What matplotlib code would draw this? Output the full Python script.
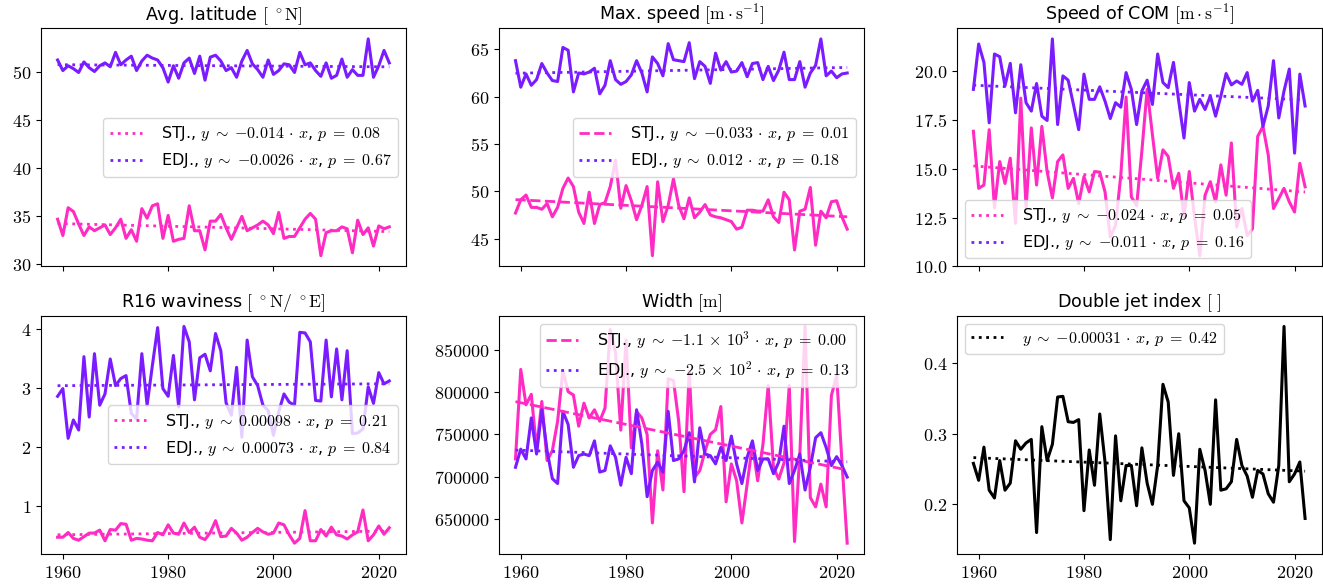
import numpy as np
import matplotlib
matplotlib.use("Agg")
import matplotlib.pyplot as plt
from matplotlib import ticker

plt.rcParams['mathtext.fontset'] = 'cm'
plt.rcParams['font.family'] = 'DejaVu Sans'
plt.rcParams['font.size'] = 10.5
plt.rcParams['xtick.labelsize'] = 13
plt.rcParams['ytick.labelsize'] = 13
plt.rcParams['legend.fontsize'] = 11.5

years = np.arange(1959, 2023)

pink = '#ff2bc2'
purple = '#7a1cff'

# avg latitude
lat_stj = [34.7, 33.0, 35.9, 35.5, 34.2, 33.0, 33.9, 33.5, 33.8, 34.1, 33.1, 33.8, 34.7, 32.7, 33.6, 32.4,
           35.8, 34.8, 36.1, 36.3, 32.7, 35.1, 32.4, 32.6, 32.7, 36.1, 33.5, 33.5, 31.5, 34.5, 34.5, 35.2,
           33.8, 32.6, 33.8, 35.0, 33.5, 33.8, 34.1, 34.5, 34.1, 33.2, 35.4, 32.7, 32.9, 32.9, 33.8, 34.7,
           35.3, 34.7, 30.9, 33.3, 33.5, 33.5, 33.9, 33.7, 31.2, 34.6, 33.1, 33.8, 31.9, 34.0, 33.7, 33.9]
lat_edj = [51.3, 50.2, 50.7, 50.4, 50.0, 51.1, 50.5, 50.1, 50.7, 51.0, 50.6, 52.1, 50.8, 51.3, 51.7, 50.2,
           51.2, 51.8, 51.5, 51.3, 50.5, 49.0, 50.7, 49.4, 51.0, 51.5, 49.9, 51.7, 49.2, 51.6, 51.8, 51.2,
           50.2, 50.5, 49.5, 51.2, 52.3, 50.9, 50.3, 49.5, 51.3, 49.8, 50.2, 50.9, 50.8, 50.0, 52.1, 50.8,
           51.0, 50.2, 49.6, 51.0, 49.4, 49.7, 51.4, 49.5, 50.3, 49.7, 49.7, 53.5, 49.5, 50.7, 52.3, 51.0]

# max speed
spd_stj = [47.7, 49.1, 49.6, 48.3, 48.3, 48.1, 48.7, 47.3, 48.3, 50.3, 51.4, 50.5, 47.8, 46.6, 49.9, 46.6,
           48.6, 48.8, 50.5, 53.3, 48.2, 50.6, 49.0, 47.0, 48.5, 50.5, 43.2, 51.0, 46.8, 48.5, 51.3, 48.5,
           47.1, 49.3, 47.2, 47.8, 48.6, 47.5, 47.3, 47.2, 47.0, 46.8, 46.0, 46.2, 48.0, 48.0, 47.9, 47.9,
           49.1, 47.3, 46.7, 49.9, 49.1, 43.8, 47.9, 48.1, 50.4, 44.3, 47.9, 47.2, 48.9, 49.0, 47.3, 46.0]
spd_edj = [63.8, 61.0, 62.4, 61.2, 61.8, 63.5, 62.5, 61.7, 61.6, 65.2, 64.9, 60.5, 62.5, 62.4, 62.6, 63.0,
           60.3, 61.2, 63.8, 61.8, 61.3, 61.6, 62.3, 63.8, 62.5, 60.5, 64.2, 63.5, 62.2, 65.6, 63.9, 63.8,
           63.7, 65.7, 61.9, 63.7, 63.2, 61.4, 64.6, 62.8, 63.7, 62.6, 62.7, 63.6, 62.1, 63.5, 63.6, 61.8,
           63.2, 61.7, 62.8, 64.7, 61.8, 61.8, 63.7, 61.0, 62.5, 63.3, 66.1, 62.2, 62.7, 62.0, 62.4, 62.5]

# speed of COM
com_stj = [16.91, 13.99, 14.16, 16.99, 13.0, 15.36, 14.24, 15.53, 12.2, 18.6, 13.0, 17.08, 14.16, 17.16, 14.85, 13.5,
           15.36, 15.70, 13.99, 14.50, 13.21, 14.59, 13.81, 14.85, 14.82, 13.81, 11.5, 12.1, 14.67, 18.66, 13.56, 13.1,
           15.9, 19.05, 16.74, 14.50, 15.96, 15.62, 13.99, 14.76, 12.53, 14.85, 12.53, 10.55, 13.64, 14.33, 13.30, 15.19,
           13.64, 16.31, 12.01, 12.96, 11.58, 11.92, 16.65, 17.16, 15.70, 12.96, 13.47, 13.99, 13.30, 12.78, 15.27, 14.07]
com_edj = [19.05, 21.37, 20.43, 17.34, 20.86, 20.72, 19.23, 20.38, 17.85, 20.31, 18.37, 17.94, 19.35, 17.68, 17.46, 21.63,
           17.25, 19.74, 19.52, 18.28, 16.99, 19.83, 18.54, 18.54, 19.18, 18.45, 17.56, 18.37, 18.14, 19.91, 19.05, 17.25,
           18.97, 19.52, 18.28, 20.86, 19.40, 19.14, 20.43, 18.45, 16.56, 19.40, 17.94, 18.54, 18.02, 18.71, 17.68, 18.71,
           19.86, 19.28, 19.48, 19.31, 19.91, 18.45, 19.00, 17.16, 18.20, 20.52, 17.59, 18.97, 20.09, 15.79, 19.83, 18.20]

# waviness
wav_stj = [0.48, 0.48, 0.56, 0.46, 0.43, 0.49, 0.55, 0.55, 0.60, 0.42, 0.61, 0.60, 0.71, 0.70, 0.43, 0.46,
           0.45, 0.43, 0.42, 0.56, 0.52, 0.69, 0.55, 0.53, 0.72, 0.56, 0.65, 0.48, 0.44, 0.56, 0.76, 0.49,
           0.50, 0.63, 0.55, 0.43, 0.48, 0.56, 0.63, 0.57, 0.53, 0.55, 0.72, 0.69, 0.52, 0.38, 0.46, 0.93,
           0.42, 0.42, 0.61, 0.50, 0.65, 0.52, 0.50, 0.45, 0.52, 0.57, 0.94, 0.42, 0.52, 0.67, 0.53, 0.64]
wav_edj = [2.86, 2.99, 2.15, 2.46, 2.29, 3.53, 2.51, 3.58, 2.71, 2.90, 3.49, 3.04, 3.16, 3.21, 2.57, 2.48,
           3.58, 2.71, 3.38, 4.02, 2.99, 2.86, 3.55, 2.68, 4.04, 3.78, 2.80, 3.51, 3.57, 3.29, 3.92, 3.63,
           2.75, 2.54, 3.35, 2.17, 3.81, 3.19, 3.04, 2.71, 2.62, 2.20, 2.60, 2.90, 2.76, 2.71, 3.94, 3.93,
           3.78, 2.79, 2.78, 3.81, 2.85, 3.66, 2.80, 3.63, 2.23, 2.24, 2.31, 3.02, 2.74, 3.26, 3.07, 3.12]

# width
wid_stj = [720900, 827000, 785000, 797500, 732500, 789000, 719000, 730600, 765600, 826000, 800600, 796700,
           759700, 787000, 769500, 779200, 765600, 781200, 874500, 847000, 755000, 862000, 734000, 777000,
           769500, 750000, 645000, 730600, 684000, 816000, 814000, 765600, 682000, 825000, 699000, 707000,
           730000, 750000, 755500, 783000, 670000, 715000, 695000, 645000, 691000, 738000, 695000, 738000,
           808000, 711000, 697000, 716000, 808000, 623000, 726000, 878000, 675000, 664000, 691000, 664000,
           796000, 820000, 718000, 621000]
wid_edj = [711000, 732500, 720900, 769500, 726700, 779200, 730600, 697500, 691700, 777300, 761700, 711000,
           724800, 726700, 724800, 742300, 705300, 707200, 736400, 722800, 689700, 722800, 703400, 779200,
           738400, 676100, 707200, 717000, 705300, 777300, 718900, 720900, 730600, 752000, 693600, 757800,
           726700, 724800, 715000, 734500, 719000, 748000, 715000, 691700, 722800, 742300, 707200, 720900,
           720900, 703400, 717000, 759700, 691700, 707200, 726700, 684000, 711000, 746000, 752000, 734500,
           713000, 723600, 713000, 699400]

# double jet index
dji = [0.258, 0.234, 0.281, 0.220, 0.209, 0.262, 0.220, 0.230, 0.290, 0.278, 0.287, 0.292, 0.160, 0.310, 0.262, 0.285,
       0.352, 0.353, 0.317, 0.316, 0.320, 0.191, 0.277, 0.227, 0.328, 0.260, 0.150, 0.297, 0.205, 0.255, 0.255, 0.198,
       0.280, 0.230, 0.200, 0.255, 0.370, 0.345, 0.241, 0.300, 0.205, 0.195, 0.145, 0.278, 0.248, 0.200, 0.348, 0.220,
       0.222, 0.232, 0.292, 0.255, 0.240, 0.210, 0.248, 0.243, 0.215, 0.203, 0.255, 0.452, 0.232, 0.243, 0.260, 0.180]

titles = [r'Avg. latitude $[\ {}^\circ\mathrm{N}]$',
          r'Max. speed $[\mathrm{m}\cdot\mathrm{s}^{-1}]$',
          r'Speed of COM $[\mathrm{m}\cdot\mathrm{s}^{-1}]$',
          r'R16 waviness $[\ {}^\circ\mathrm{N}/\ {}^\circ\mathrm{E}]$',
          r'Width $[\mathrm{m}]$',
          r'Double jet index $[\ ]$']

stj_series = [lat_stj, spd_stj, com_stj, wav_stj, wid_stj]
edj_series = [lat_edj, spd_edj, com_edj, wav_edj, wid_edj]
stj_slope = ['-0.014', '-0.033', '-0.024', '0.00098', r'-1.1\,\times\,10^{3}']
stj_p = [0.08, 0.01, 0.05, 0.21, 0.00]
edj_slope = ['-0.0026', '0.012', '-0.011', '0.00073', r'-2.5\,\times\,10^{2}']
edj_p = [0.67, 0.18, 0.16, 0.84, 0.13]
leg_loc = ['center right', 'center right', 'lower left', 'center right', 'upper right']
ytick_step = [5, 5, 2.5, 1, 50000, 0.1]


class MathFormatter(ticker.ScalarFormatter):
    def __call__(self, x, pos=None):
        s = super().__call__(x, pos)
        return f'${s}$' if s else s


def fit_label(slope, p):
    return rf'$y\;\sim\;{{{slope}}}\,\cdot\,x$, $p\;=\;{p:.2f}$'


def trend(ax, y, color, label, p):
    k, b = np.polyfit(years, y, 1)
    ls = '--' if p < 0.05 else ':'
    ax.plot(years, k * years + b, ls=ls, color=color, lw=2, label=label)


fig, axes = plt.subplots(2, 3, figsize=(13.23, 5.85), dpi=100, sharex=True)
axes = axes.ravel()

for i in range(5):
    ax = axes[i]
    ax.plot(years, stj_series[i], color=pink, lw=2.2)
    ax.plot(years, edj_series[i], color=purple, lw=2.2)
    trend(ax, stj_series[i], pink, 'STJ., ' + fit_label(stj_slope[i], stj_p[i]), stj_p[i])
    trend(ax, edj_series[i], purple, 'EDJ., ' + fit_label(edj_slope[i], edj_p[i]), edj_p[i])
    ax.legend(loc=leg_loc[i], handletextpad=1.2)

ax = axes[5]
ax.plot(years, dji, color='black', lw=2.2)
trend(ax, dji, 'black', fit_label('-0.00031', 0.42), 0.42)
ax.legend(loc='upper left', handletextpad=1.2)

for ax, t, step in zip(axes, titles, ytick_step):
    ax.set_title(t)
    ax.yaxis.set_major_locator(ticker.MultipleLocator(step))
    f = MathFormatter(useOffset=False)
    f.set_scientific(False)
    ax.yaxis.set_major_formatter(f)
    fx = MathFormatter(useOffset=False)
    fx.set_scientific(False)
    ax.xaxis.set_major_formatter(fx)
    ax.set_xticks([1960, 1980, 2000, 2020])

fig.subplots_adjust(left=0.031, right=0.999, top=0.952, bottom=0.053, wspace=0.255, hspace=0.206)
fig.savefig('out.png', dpi=100)
